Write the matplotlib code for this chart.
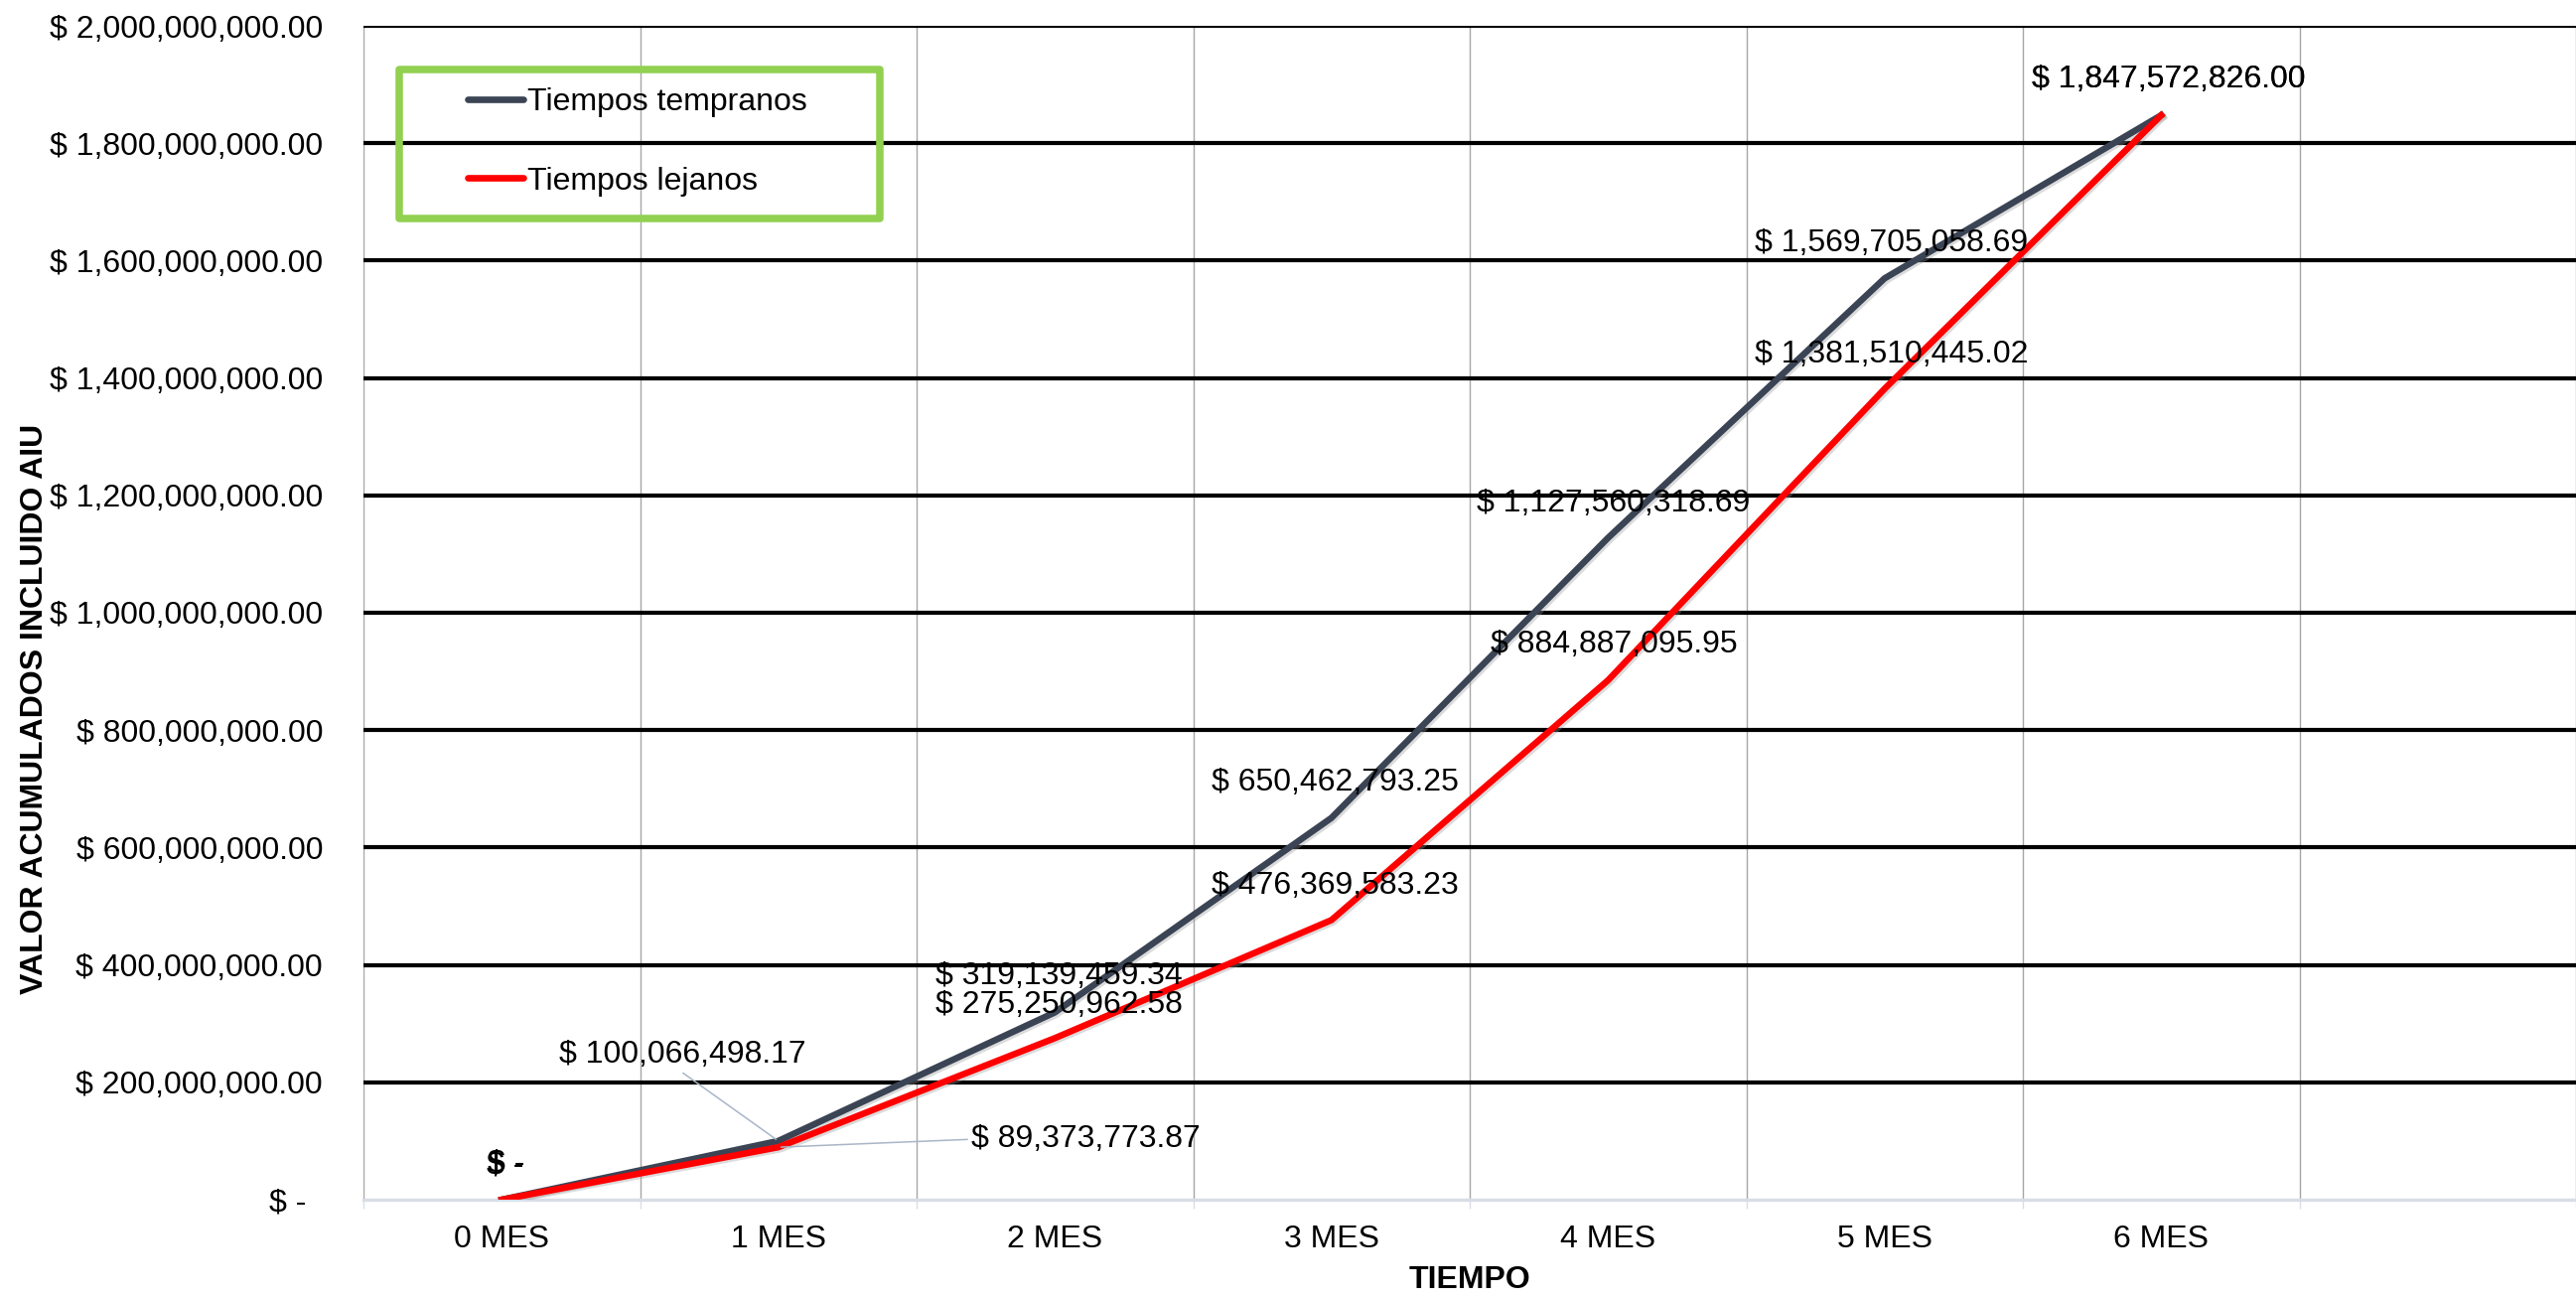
import matplotlib
matplotlib.use("Agg")
import matplotlib.pyplot as plt
import matplotlib.patheffects as pe
from matplotlib.patches import Rectangle
from matplotlib.ticker import FixedLocator, FuncFormatter
from matplotlib.transforms import ScaledTranslation

# ---------------- data ----------------
categories = ["0 MES", "1 MES", "2 MES", "3 MES", "4 MES", "5 MES", "6 MES"]
tempranos = [0.0, 100066498.17, 319139459.34, 650462793.25,
             1127560318.69, 1569705058.69, 1847572826.00]
lejanos = [0.0, 89373773.87, 275250962.58, 476369583.23,
           884887095.95, 1381510445.02, 1847572826.00]
series_names = ["Tiempos tempranos", "Tiempos lejanos"]
y_ticks = [0, 200e6, 400e6, 600e6, 800e6, 1000e6, 1200e6, 1400e6, 1600e6, 1800e6, 2000e6]

# ---------------- layout / style ----------------
W, H, DPI = 2594, 1307, 100
FS = 23
FONT = "Liberation Sans"
C_DARK = "#3a4454"
C_RED = "#ff0000"

# label offsets in pixels (dx, dy) relative to point (dy positive = up)
off_t = [(3, 35), (-96, 87), (4, 36), (4, 36), (5, 35), (7, 35), (8, 36)]
off_l = [(4, 36), (310, 8), (4, 33), (4, 34), (6, 36), (7, 35), (8, 36)]

plt.rcParams["font.family"] = [FONT, "DejaVu Sans"]
fig = plt.figure(figsize=(W / DPI, H / DPI), dpi=DPI)
ax = fig.add_axes([366 / W, 1 - 1208 / H, 2228 / W, 1182 / H])

x = list(range(len(categories)))
shadow = [pe.SimpleLineShadow(offset=(1.5, -1.5), shadow_color="#999999", alpha=0.35), pe.Normal()]
l1, = ax.plot(x, tempranos, color=C_DARK, lw=4.7, zorder=4, label=series_names[0],
              solid_joinstyle="miter", path_effects=shadow)
l2, = ax.plot(x, lejanos, color=C_RED, lw=4.7, zorder=5, label=series_names[1],
              solid_joinstyle="miter", path_effects=shadow)

ax.set_xlim(-0.5, len(categories) + 0.5)
ax.set_ylim(0, 2000e6)

# y axis
ax.yaxis.set_major_locator(FixedLocator(y_ticks))
def yfmt(v, pos):
    return "$ -" if v == 0 else "$ {:,.2f}".format(v)
ax.yaxis.set_major_formatter(FuncFormatter(yfmt))
ax.tick_params(axis="y", which="major", length=0, pad=29.5, labelsize=FS)
ax.yaxis.grid(True, which="major", color="black", lw=3.0, zorder=1)

# x axis
ax.set_xticks(x)
ax.set_xticklabels(categories)
ax.set_xticks([i - 0.5 for i in range(len(categories) + 2)], minor=True)
ax.tick_params(axis="x", which="major", length=0, pad=18, labelsize=FS)
ax.tick_params(axis="x", which="minor", length=6.5, width=1.0, color="#d9dde6", direction="out")
ax.xaxis.grid(True, which="minor", color="#a6a6a6", lw=1.0, zorder=0)
ax.set_axisbelow(True)

for s in ["top", "right", "left"]:
    ax.spines[s].set_visible(False)
ax.spines["bottom"].set_color("#d9dde6")
ax.spines["bottom"].set_linewidth(2.4)

fig.canvas.draw()
# hide the black gridline at zero (axis line is light)
for v, gl in zip(ax.get_yticks(), ax.yaxis.get_gridlines()):
    if v == 0:
        gl.set_visible(False)
for v, lab in zip(ax.get_yticks(), ax.get_yticklabels()):
    if v == 0:
        lab.set_transform(lab.get_transform() + ScaledTranslation(-17 / DPI, 0, fig.dpi_scale_trans))

ax.set_xlabel("TIEMPO", fontsize=FS, fontweight="bold", labelpad=8)
ax.set_ylabel("VALOR ACUMULADOS INCLUIDO AIU", fontsize=FS, fontweight="bold")
ax.yaxis.set_label_coords((50 - 366) / 2228, (1208 - 714) / 1182)

# data labels
def fmt(v):
    return "$ -" if v == 0 else "$ {:,.2f}".format(v)

leader = dict(arrowstyle="-", color="#a9b6c8", lw=1.1, shrinkA=1, shrinkB=2)
for i, v in enumerate(tempranos):
    kw = {}
    if i == 1:
        kw = dict(arrowprops=dict(relpos=(0.48, 0.0), **leader))
    ax.annotate(fmt(v), xy=(i, v), xytext=off_t[i], textcoords="offset pixels",
                ha="center", va="center", fontsize=FS, zorder=6, **kw)
for i, v in enumerate(lejanos):
    kw = {}
    if i == 1:
        kw = dict(arrowprops=dict(relpos=(0.0, 0.5), **leader))
    ax.annotate(fmt(v), xy=(i, v), xytext=off_l[i], textcoords="offset pixels",
                ha="center", va="center", fontsize=FS, zorder=6, **kw)

# legend
leg = ax.legend(handles=[l1, l2], loc="upper left",
                bbox_to_anchor=(471 / W, 1 - 88 / H), bbox_transform=fig.transFigure,
                frameon=False, fontsize=FS, handlelength=1.75, handletextpad=0.12,
                labelspacing=1.55, borderpad=0, borderaxespad=0)
for h in leg.legend_handles:
    h.set_path_effects([])
    h.set_linewidth(4.8)
    h.set_solid_capstyle("round")
fig.patches.append(Rectangle((401.5 / W, 1 - 219.5 / H), 484 / W, 149 / H,
                             transform=fig.transFigure, fill=False,
                             edgecolor="#92d050", lw=5.4, joinstyle="round", zorder=10))

fig.savefig("out.png", dpi=DPI)
